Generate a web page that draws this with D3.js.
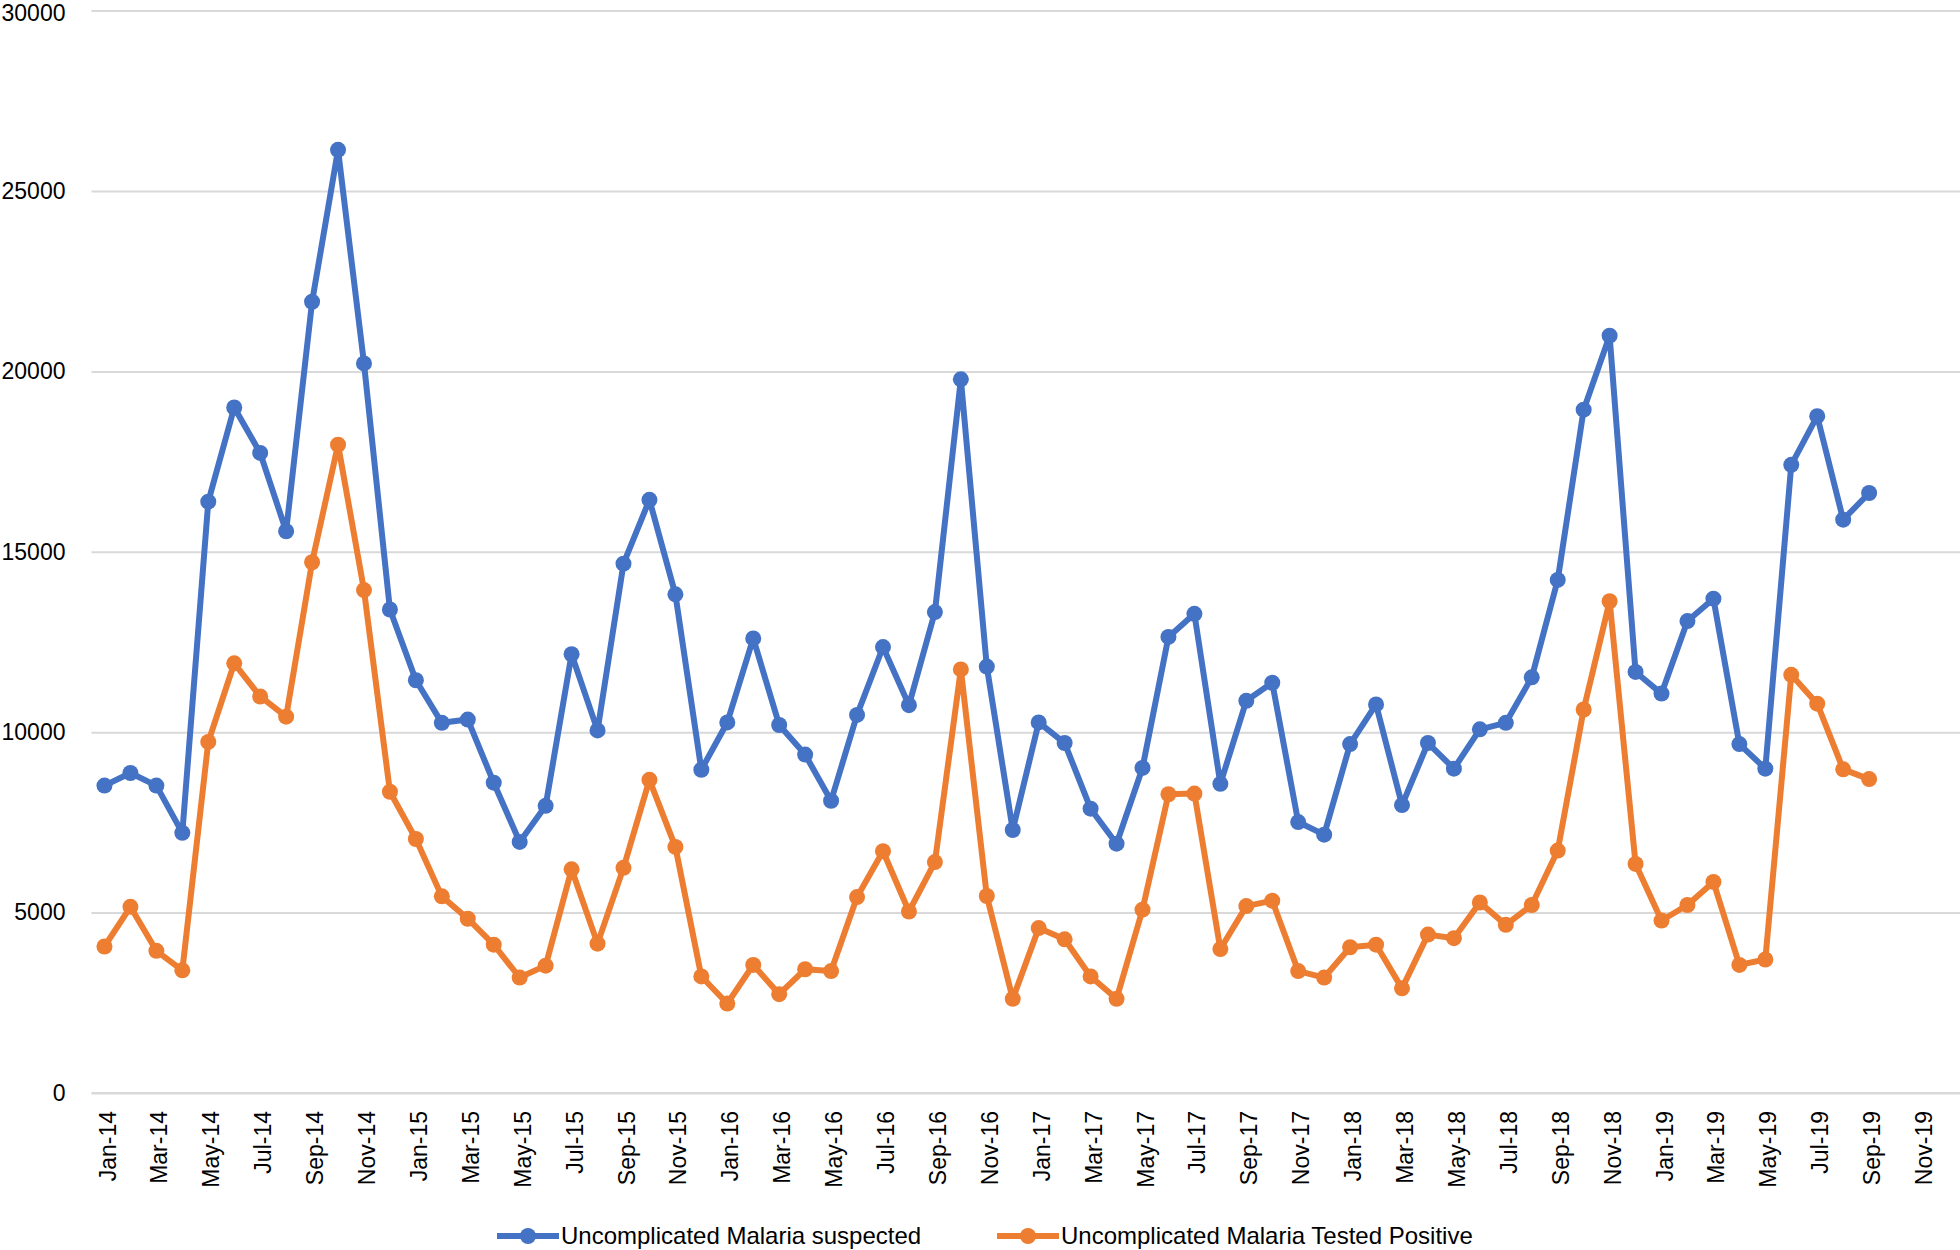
<!DOCTYPE html>
<html>
<head>
<meta charset="utf-8">
<script src="https://cdn.jsdelivr.net/npm/d3@7"></script>
<style>
  body { margin: 0; background: #fff; }
  text { font-family: "Liberation Sans", Arial, sans-serif; fill: #000; }
</style>
</head>
<body>
<svg id="chart" width="1960" height="1250"></svg>
<script>
// months on the category axis (Jan-14 .. Nov-19)
const monthNames = ["Jan","Feb","Mar","Apr","May","Jun","Jul","Aug","Sep","Oct","Nov","Dec"];
const months = [];
for (let yr = 14; yr <= 19; yr++) {
    monthNames.forEach((m, i) => { if (yr < 19 || i <= 10) months.push(m + "-" + yr); });
}

// Uncomplicated Malaria suspected, Jan-14 .. Sep-19
const suspected = [
    8520, 8870, 8520, 7210, 16390, 19000, 17740, 15570, 21930, 26140, 20220, 13400,
    11440, 10260, 10350, 8600, 6960, 7960, 12160, 10050, 14670, 16440, 13820, 8960,
    10270, 12600, 10200, 9380, 8100, 10480, 12360, 10750, 13330, 19780, 11820, 7290,
    10270, 9700, 7880, 6910, 9010, 12640, 13280, 8570, 10870, 11370, 7510, 7160,
    9670, 10770, 7980, 9700, 8990, 10080, 10260, 11520, 14220, 18940, 20990, 11670,
    11070, 13080, 13700, 9670, 8990, 17410, 18760, 15890, 16630
];

// Uncomplicated Malaria Tested Positive, Jan-14 .. Sep-19
const positive = [
    4060, 5160, 3940, 3400, 9730, 11910, 10990, 10430, 14710, 17970, 13940, 8350,
    7040, 5450, 4830, 4110, 3200, 3530, 6200, 4140, 6240, 8680, 6820, 3230,
    2480, 3550, 2740, 3430, 3380, 5430, 6700, 5030, 6400, 11740, 5460, 2610,
    4570, 4260, 3230, 2610, 5080, 8280, 8300, 3990, 5180, 5330, 3380, 3200,
    4040, 4110, 2900, 4390, 4290, 5280, 4660, 5210, 6720, 10630, 13630, 6350,
    4780, 5210, 5850, 3550, 3700, 11590, 10790, 8970, 8700
];

const yTicks = [0, 5000, 10000, 15000, 20000, 25000, 30000];
const xTickLabels = months.filter((d, i) => i % 2 === 0);

const seriesNames = ["Uncomplicated Malaria suspected", "Uncomplicated Malaria Tested Positive"];
const colors = ["#4472C4", "#ED7D31"];

const svg = d3.select("#chart");
const plotLeft = 91.5, plotRight = 1934, gridRight = 1960;
const plotTop = 10.6, plotBottom = 1093;

const x = d3.scaleBand().domain(months).range([plotLeft, plotRight]);
const y = d3.scaleLinear().domain([0, 30000]).range([plotBottom, plotTop]);
const cx = d => x(d) + x.bandwidth() / 2;

// gridlines + y labels
const yAxis = svg.append("g")
    .attr("transform", "translate(" + plotLeft + ",0)")
    .call(d3.axisLeft(y).tickValues(yTicks).tickSize(-(gridRight - plotLeft)).tickPadding(26).tickFormat(d3.format("d")));
yAxis.select(".domain").remove();
yAxis.selectAll(".tick line").attr("stroke", "#d9d9d9").attr("stroke-width", 2);
yAxis.selectAll(".tick text")
    .attr("font-size", 23)
    .attr("font-family", "Liberation Sans, Arial, sans-serif")
    .attr("fill", "#000")
    .attr("dy", d => d === 30000 ? "0.42em" : "0.32em");

// x axis
const xAxis = svg.append("g")
    .attr("transform", "translate(0," + plotBottom + ")")
    .call(d3.axisBottom(x).tickValues(xTickLabels).tickSize(0));
xAxis.select(".domain").remove();
xAxis.append("line")
    .attr("x1", plotLeft).attr("x2", gridRight)
    .attr("stroke", "#d9d9d9").attr("stroke-width", 2);
xAxis.selectAll(".tick text")
    .attr("font-size", 23)
    .attr("font-family", "Liberation Sans, Arial, sans-serif")
    .attr("fill", "#000")
    .attr("text-anchor", "end")
    .attr("transform", "rotate(-90)")
    .attr("x", -18)
    .attr("y", 3)
    .attr("dy", "0.35em");

// series
[suspected, positive].forEach((vals, si) => {
    const pts = vals.map((v, i) => [months[i], v]);
    const g = svg.append("g");
    g.append("path")
        .datum(pts)
        .attr("fill", "none")
        .attr("stroke", colors[si])
        .attr("stroke-width", 6)
        .attr("stroke-linejoin", "round")
        .attr("d", d3.line().x(d => cx(d[0])).y(d => y(d[1])));
    g.selectAll("circle")
        .data(pts)
        .join("circle")
            .attr("cx", d => cx(d[0]))
            .attr("cy", d => y(d[1]))
            .attr("r", 8)
            .attr("fill", colors[si]);
});

// legend
const legendX = [497, 997];
const legend = svg.append("g").attr("transform", "translate(0,1236)");
seriesNames.forEach((name, i) => {
    const lg = legend.append("g").attr("transform", "translate(" + legendX[i] + ",0)");
    lg.append("line").attr("x1", 0).attr("x2", 62)
        .attr("stroke", colors[i]).attr("stroke-width", 6);
    lg.append("circle").attr("cx", 31).attr("r", 8).attr("fill", colors[i]);
    lg.append("text")
        .attr("x", 64)
        .attr("dy", "0.35em")
        .attr("font-size", 24)
        .text(name);
});
</script>
</body>
</html>
